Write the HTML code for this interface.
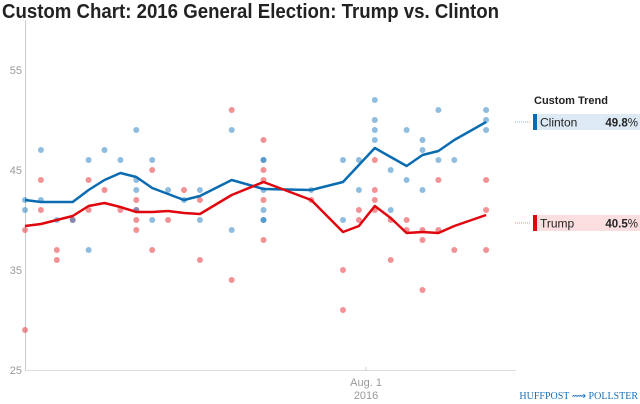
<!DOCTYPE html>
<html><head><meta charset="utf-8"><style>
body{margin:0;background:#fff;}
svg{display:block;font-family:"Liberation Sans",sans-serif;}
</style></head><body>
<svg id="chart" width="640" height="404" viewBox="0 0 640 404">
<text x="2" y="18" font-size="20" font-weight="bold" fill="#222" textLength="497" lengthAdjust="spacingAndGlyphs">Custom Chart: 2016 General Election: Trump vs. Clinton</text>
<line x1="25.5" y1="20" x2="25.5" y2="370" stroke="#ccc"/>
<line x1="25" y1="370.5" x2="516" y2="370.5" stroke="#ddd"/>
<g id="yticks"></g><g id="xticks"></g>
<g id="dots"></g><g id="lines"></g>
<text x="534" y="104" font-size="11" font-weight="bold" fill="#222">Custom Trend</text>
<g id="legend"></g>
<text x="638" y="399" font-size="10" font-family="Liberation Serif,serif" fill="#1a6fb5" text-anchor="end">HUFFPOST ⟿ POLLSTER</text>
</svg>
<script>
const yTicks=[55,45,35,25];
const xTickPos=[21.45];
const xTickLabels=[["Aug. 1","2016"]];
const trendCols=[0,1,2,3,4,5,6,7,8,9,10,11,13,15,18,20,21,22,23,24,25,26,27,29];
const clintonTrend=[42,41.8,41.8,41.8,43,44,44.7,44.3,43.2,42.6,42,42.4,44,43.1,43,43.8,45.5,47.2,46.3,45.4,46.5,46.9,48,49.8];
const trumpTrend=[39.4,39.6,40,40.4,41.4,41.7,41.3,40.8,40.8,40.9,40.7,40.6,42.5,43.8,42,38.8,39.4,41.4,40.2,38.7,38.8,38.7,39.4,40.5];
const clintonPollCols=[0,0,1,1,2,3,4,4,5,6,7,7,7,7,8,8,9,10,11,11,13,13,15,15,15,15,15,15,18,20,20,21,21,22,22,22,22,23,23,24,24,25,25,25,26,26,27,29,29,29];
const clintonPolls=[42,41,47,42,40,40,46,37,47,46,49,44,43,41,46,40,43,42,43,40,49,39,46,46,43,41,40,40,43,46,40,46,43,52,50,49,48,45,41,49,44,48,47,43,51,46,46,51,50,49];
const trumpPollCols=[0,0,1,1,2,2,3,4,4,5,6,7,7,7,7,8,8,9,10,11,11,13,13,15,15,15,15,15,18,20,20,21,21,22,22,22,22,23,23,24,24,25,25,25,26,26,27,29,29,29];
const trumpPolls=[39,29,44,41,37,36,40,44,41,43,41,42,41,40,39,45,37,40,43,42,36,51,34,48,45,44,42,38,42,35,31,41,40,46,43,42,41,40,36,40,39,39,38,33,44,39,37,44,41,37];
const NS="http://www.w3.org/2000/svg";
const xs=c=>25+c*15.9;
const ys=v=>70+(55-v)*10;
function mk(tag,attrs,parent){const e=document.createElementNS(NS,tag);for(const k in attrs)e.setAttribute(k,attrs[k]);parent.appendChild(e);return e;}
const yt=document.getElementById('yticks');
yTicks.forEach(v=>{const t=mk('text',{x:22,y:ys(v)+4,'font-size':11,fill:'#999','text-anchor':'end'},yt);t.textContent=v;

});
const xt=document.getElementById('xticks');
xTickPos.forEach((p,i)=>{const l=mk('line',{x1:xs(p),x2:xs(p),y1:367,y2:371,stroke:'#ccc'},xt);


xTickLabels[i].forEach((s,j)=>{const t=mk('text',{x:xs(p),y:386+j*13,'font-size':11,fill:'#999','text-anchor':'middle'},xt);t.textContent=s;

});});
const dots=document.getElementById('dots');
trumpPolls.forEach((v,i)=>{const c=mk('circle',{cx:xs(trumpPollCols[i]),cy:ys(v),r:3,fill:'#e8262c','fill-opacity':0.5},dots);

});
clintonPolls.forEach((v,i)=>{const c=mk('circle',{cx:xs(clintonPollCols[i]),cy:ys(v),r:3,fill:'#1f7bc0','fill-opacity':0.5},dots);

});
const lines=document.getElementById('lines');
function path(arr,col,name){const d=arr.map((v,i)=>(i?'L':'M')+xs(trendCols[i]).toFixed(1)+','+ys(v).toFixed(1)).join('');
const p=mk('path',{d:d,fill:'none',stroke:col,'stroke-width':2.5,'stroke-linejoin':'round'},lines);

}
path(clintonTrend,'#0a6cb0','clinton-trend-line');
path(trumpTrend,'#e0060e','trump-trend-line');
const lg=document.getElementById('legend');
const legendNames=["Clinton","Trump"];
const legendVals=[clintonTrend[clintonTrend.length-1],trumpTrend[trumpTrend.length-1]];
const legendY=[122,223];
const legendCol=['#0a6cb0','#e0060e'],legendBg=['#ddeaf5','#fbdfe0'],legendDot=['#8ab8dc','#f08a8e'];
legendNames.forEach((n,i)=>{const g=mk('g',{},lg);


const y=legendY[i];
mk('line',{x1:515,x2:531,y1:y,y2:y,stroke:legendDot[i],'stroke-dasharray':'1,1'},g);
mk('rect',{x:533,y:y-8,width:107,height:16,fill:legendBg[i]},g);
mk('rect',{x:533,y:y-8,width:4,height:16,fill:legendCol[i]},g);
const t=mk('text',{x:540,y:y+4.5,'font-size':12,fill:'#222'},g);t.textContent=n;
const v=mk('text',{x:638,y:y+4.5,'font-size':11.5,fill:'#222','text-anchor':'end'},g);
v.innerHTML='<tspan font-weight="bold">'+legendVals[i].toFixed(1)+'</tspan>%';});
</script>
</body></html>
